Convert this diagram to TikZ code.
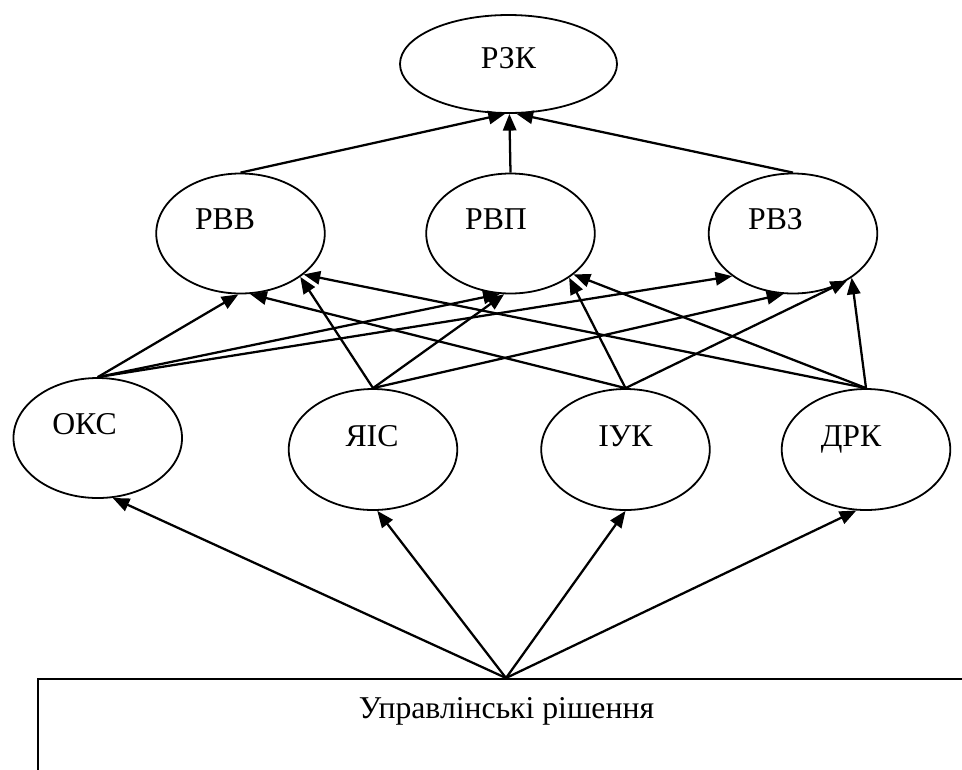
\documentclass[tikz,border=0pt]{standalone}
\usepackage{fontspec}
\setmainfont{Liberation Serif}
\newfontfamily\tnrfont{Liberation Serif}
\usetikzlibrary{shapes.geometric,arrows.meta}
\begin{document}
\begin{tikzpicture}[x=0.75pt,y=-0.75pt,
  oval/.style={draw,ellipse,line width=1.35pt,inner sep=0pt,minimum width=126.4pt,minimum height=90pt},
  lbl/.style={anchor=base,inner sep=0pt,font=\tnrfont\fontsize{23.8}{28}\selectfont},
  conn/.style={line width=1.7pt,-{Triangle[length=12.5pt,width=10pt]}},
]
\fill[white] (0,0) rectangle (962,769);
\useasboundingbox (0,0) rectangle (962,769);

% top
\node[oval,minimum width=162.75pt,minimum height=73.5pt] (rzk) at (508.5,64) {};
\node[lbl] (rzkt) at (508.5,68) {РЗК};

% row 2
\node[oval] (rvv) at (240.5,233.5) {};
\node[oval] (rvp) at (510.5,233.5) {};
\node[oval] (rvz) at (793,233.5) {};
\node[lbl] (rvvt) at (225,229) {РВВ};
\node[lbl] (rvpt) at (496,229) {РВП};
\node[lbl] (rvzt) at (775.5,229) {РВЗ};

% row 3
\node[oval] (oks) at (97.75,438) {};
\node[oval,minimum height=90.75pt] (yais) at (373,449.5) {};
\node[oval,minimum height=90.75pt] (iuk) at (625.5,449.5) {};
\node[oval,minimum height=90.75pt] (drk) at (866,449.5) {};
\node[lbl] (okst) at (84.5,434) {ОКС};
\node[lbl] (yaist) at (372,446) {ЯІС};
\node[lbl] (iukt) at (625.5,446) {ІУК};
\node[lbl] (drkt) at (851,446) {ДРК};

% bottom box
\node[draw,line width=1.5pt,rectangle,inner sep=0pt,minimum width=702pt,minimum height=150pt,anchor=north] (box) at (506,678) {};
\node[lbl] (boxt) at (506.5,718) {Управлінські рішення};

% row 2 -> top
\draw[conn] (rvv.90) -- (rzk.-94);
\draw[conn] (rvp.90) -- (rzk.-89);
\draw[conn] (rvz.90) -- (rzk.-81);

% row 3 -> row 2
\draw[conn] (oks.90) -- (rvv.-92);
\draw[conn] (oks.90) -- (rvp.-100);
\draw[conn] (oks.90) -- (rvz.-145);

\draw[conn] (yais.90) -- (rvv.-36);
\draw[conn] (yais.90) -- (rvp.-96);
\draw[conn] (yais.90) -- (rvz.-99);

\draw[conn] (iuk.90) -- (rvv.-81);
\draw[conn] (iuk.90) -- (rvp.-37);
\draw[conn] (iuk.90) -- (rvz.-41);

\draw[conn] (drk.90) -- (rvv.-33);
\draw[conn] (drk.90) -- (rvp.-33);
\draw[conn] (drk.90) -- (rvz.-37);

% box -> row 3
\draw[conn] (box.north) -- (oks.-76);
\draw[conn] (box.north) -- (yais.-86);
\draw[conn] (box.north) -- (iuk.-90);
\draw[conn] (box.north) -- (drk.-99);
\end{tikzpicture}
\end{document}
